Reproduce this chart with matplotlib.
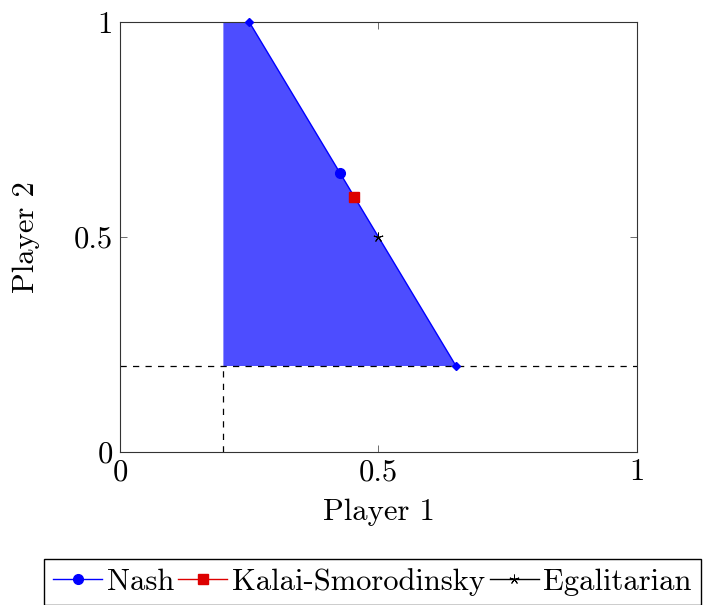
import matplotlib
matplotlib.use("Agg")
from matplotlib import pyplot as plt

plt.rcParams['font.family'] = ['cmr10', 'DejaVu Serif']
plt.rcParams['mathtext.fontset'] = 'cm'
plt.rcParams['axes.unicode_minus'] = False

# feasible region and Pareto frontier
region_x = [0.2, 0.25, 0.65, 0.2]
region_y = [1.0, 1.0, 0.2, 0.2]
frontier_x = [0.25, 0.65]
frontier_y = [1.0, 0.2]
disagreement = (0.2, 0.2)

# bargaining solutions
solution_names = ['Nash', 'Kalai-Smorodinsky', 'Egalitarian']
solution_x = [0.425, 0.4533, 0.5]
solution_y = [0.65, 0.5933, 0.5]

ticks = [0, 0.5, 1]
tick_labels = ['0', '0.5', '1']

fig = plt.figure(figsize=(7.05, 6.05), dpi=100)
ax = fig.add_axes([0.1702, 0.2529, 0.7333, 0.7107])

ax.fill(region_x, region_y, color=(0.3, 0.3, 1.0), lw=0, zorder=1)
ax.plot(frontier_x, frontier_y, color='blue', lw=1, marker='D', ms=4.5, zorder=3, clip_on=False)

ax.plot([0, 1], [disagreement[1]] * 2, color='black', ls=(0, (5, 5)), lw=0.9, zorder=2)
ax.plot([disagreement[0]] * 2, [0, disagreement[1]], color='black', ls=(0, (5, 5)), lw=0.9, zorder=2)

styles = [dict(color='blue', marker='o', ms=7),
          dict(color='#dd0000', marker='s', ms=7),
          dict(color='black', marker=(5, 2, 0), ms=7, mew=0.7)]
handles = []
for name, x, y, st in zip(solution_names, solution_x, solution_y, styles):
    h, = ax.plot([x], [y], ls='-', lw=1, label=name, zorder=4, **st)
    handles.append(h)

ax.set_xlim(0, 1)
ax.set_ylim(0, 1)
ax.set_xticks(ticks)
ax.set_xticklabels(tick_labels)
ax.set_yticks(ticks)
ax.set_yticklabels(tick_labels)
ax.tick_params(direction='in', top=True, right=True, length=5, width=0.6,
               labelsize=22, pad=5, color='#555555')
for s in ax.spines.values():
    s.set_linewidth(0.8)
    s.set_color('#333333')

ax.set_xlabel('Player 1', fontsize=22, labelpad=9)
ax.set_ylabel('Player 2', fontsize=22)
ax.yaxis.set_label_coords(-0.155, 0.5)

fig.legend(handles=handles, loc='upper left', bbox_to_anchor=(44 / 705, 1 - 559 / 605),
           ncol=3, fontsize=22, frameon=True, fancybox=False, edgecolor='black',
           handlelength=1.6, handletextpad=0.15, columnspacing=0.15,
           borderpad=0.3, borderaxespad=0, framealpha=1)

fig.savefig('out.png', dpi=100)
